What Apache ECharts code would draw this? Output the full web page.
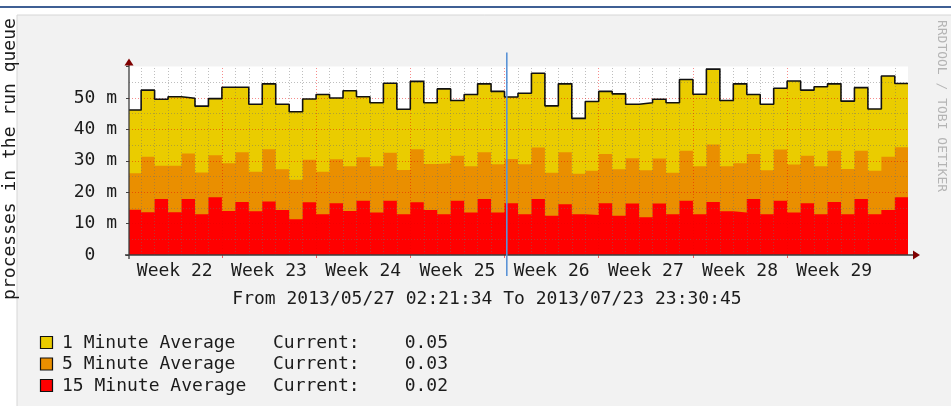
<!DOCTYPE html>
<html><head><meta charset="utf-8">
<script src="https://cdn.jsdelivr.net/npm/echarts@6/dist/echarts.min.js"></script>
<style>html,body{margin:0;padding:0;background:#fff}#c{width:951px;height:406px}</style>
</head><body><div id="c"></div>
<script>
// ---- data ----
const rangeFrom = '2013/05/27 02:21:34';
const rangeTo = '2013/07/23 23:30:45';
const rangeStartDay = 0.09831;   // days after 2013-05-27 00:00
const rangeEndDay = 57.97969;
const weekNumbers = [22, 23, 24, 25, 26, 27, 28, 29];
const weekLabels = ['Week 22','Week 23','Week 24','Week 25','Week 26','Week 27','Week 28','Week 29'];
const seriesNames = ['1 Minute Average', '5 Minute Average', '15 Minute Average'];
const seriesColors = ['#EACC00', '#EA8F00', '#FF0000'];
const currentValues = ['0.05', '0.03', '0.02'];
const yTickValues = [0, 10, 20, 30, 40, 50];
const cursorDay = 28.17;
// daily values, milli-processes
const oneMin = [46.2,52.5,49.6,50.4,49.9,47.4,49.8,53.4,53.4,48.0, 54.5,48.0,45.6,49.7,51.1,50.0,52.3,50.4,48.5,54.7,
  46.4,55.3,48.5,52.9,49.2,51.1,54.5,52.1,50.3,51.5, 57.9,47.5,54.5,43.5,48.9,52.1,51.3,48.0,48.5,49.6,
  48.5,55.9,51.2,59.2,49.2,54.5,51.1,48.0,53.1,55.4, 52.5,53.6,54.5,49.0,53.3,46.5,57.0,54.6];
const fiveMin = [26.0,31.3,28.4,28.4,32.3,26.3,31.8,29.2,32.7,26.5, 33.7,27.3,24.0,30.3,26.5,30.5,28.3,31.1,28.3,32.6,
  27.1,33.7,29.0,29.2,31.6,28.3,32.7,28.9,30.6,28.9, 34.2,26.2,32.7,25.9,26.8,32.2,27.3,30.8,27.0,30.7,
  26.2,33.2,28.3,35.2,28.3,29.2,32.2,27.0,33.6,28.8, 31.6,28.3,33.2,27.4,33.2,26.8,31.3,34.3];
const fifteenMin = [14.4,13.6,17.8,13.6,17.8,13.0,18.4,14.0,16.9,13.9, 17.0,14.3,11.4,16.8,13.0,16.5,14.0,17.3,13.5,17.3,
  13.0,16.8,14.3,13.0,17.3,13.5,17.8,13.5,16.5,13.0, 17.8,12.5,16.2,13.0,12.7,16.5,12.5,16.4,12.0,16.4,
  13.0,17.3,13.0,16.9,13.9,13.5,17.8,13.0,17.3,13.5, 16.5,13.0,16.9,13.0,17.8,13.0,14.3,18.4];

// ---- build ----
const FONT = 'DejaVu Sans Mono';
function toPoints(vals) {
  const pts = vals.map((v, i) => [i === 0 ? rangeStartDay : i, v]);
  pts.push([rangeEndDay, vals[vals.length - 1]]);
  return pts;
}
const weekCenters = weekNumbers.map((w, i) => i * 7 + 3.5);
const weekBounds = weekNumbers.slice(1).map((w, i) => (i + 1) * 7);
const dayLines = [];
for (let d = 1; d < rangeEndDay; d++) if (d % 7 !== 0) dayLines.push(d);
const minorY = [], majorY = [];
for (let v = 5; v < 60; v += 5) (v % 10 === 0 ? majorY : minorY).push(v);

const minorStyle = { color: 'rgba(110,110,110,0.45)', width: 1, type: [1, 2] };
const majorStyle = { color: 'rgba(235,0,0,0.45)', width: 1, type: [1, 2] };
const gridLines = [];
dayLines.forEach(d => gridLines.push({ xAxis: d, lineStyle: minorStyle }));
minorY.forEach(v => gridLines.push({ yAxis: v, lineStyle: minorStyle }));
weekBounds.forEach(d => gridLines.push({ xAxis: d, lineStyle: majorStyle }));
majorY.forEach(v => gridLines.push({ yAxis: v, lineStyle: majorStyle }));

function areaSeries(name, vals, color, z, withLine) {
  return {
    name, type: 'line', step: 'end', data: toPoints(vals), z,
    showSymbol: false, symbol: 'none', silent: true, animation: false,
    lineStyle: withLine ? { color: '#111', width: 1.6 } : { width: 0, opacity: 0 },
    areaStyle: { color, opacity: 1 }
  };
}

const chart = echarts.init(document.getElementById('c'), null, { renderer: 'canvas' });
const option = {
  animation: false,
  backgroundColor: 'transparent',
  grid: { left: 129, right: 43, top: 66.6, bottom: 151, show: true, backgroundColor: '#fff', borderWidth: 0 },
  xAxis: {
    type: 'value', min: rangeStartDay, max: rangeEndDay,
    axisLine: { show: false }, splitLine: { show: false },
    axisTick: { show: true, customValues: weekBounds, length: 3, lineStyle: { color: 'rgba(235,0,0,0.6)' } },
    axisLabel: {
      customValues: weekCenters, margin: 7,
      fontFamily: FONT, fontSize: 18, color: '#1c1c1c',
      formatter: v => { const i = weekCenters.findIndex(c => Math.abs(c - v) < 1e-6); return i >= 0 ? weekLabels[i] : ''; }
    }
  },
  yAxis: {
    type: 'value', min: 0, max: 60, interval: 10,
    axisLine: { show: false }, splitLine: { show: false },
    axisTick: { show: true, length: 3, lineStyle: { color: '#444' } },
    axisLabel: {
      margin: 12, fontFamily: FONT, fontSize: 18, color: '#1c1c1c',
      formatter: v => yTickValues.includes(v) ? (v === 0 ? '0  ' : v + ' m') : ''
    }
  },
  series: [
    areaSeries(seriesNames[0], oneMin, seriesColors[0], 2, false),
    areaSeries(seriesNames[1], fiveMin, seriesColors[1], 3, false),
    areaSeries(seriesNames[2], fifteenMin, seriesColors[2], 4, false),
    {
      name: 'grid', type: 'line', data: [[rangeStartDay, 0]], z: 5, symbol: 'none', silent: true,
      lineStyle: { opacity: 0 },
      markLine: { silent: true, symbol: ['none', 'none'], label: { show: false }, animation: false, data: gridLines }
    },
    {
      name: seriesNames[0] + ' line', type: 'line', step: 'end', data: toPoints(oneMin), z: 6,
      symbol: 'none', silent: true, lineStyle: { color: '#111', width: 1.6 }
    }
  ]
};
chart.setOption(option);

// decorations placed through the chart's own coordinate conversion
const p00 = chart.convertToPixel({ gridIndex: 0 }, [rangeStartDay, 0]);
const pTop = chart.convertToPixel({ gridIndex: 0 }, [rangeStartDay, 60]);
const pRight = chart.convertToPixel({ gridIndex: 0 }, [rangeEndDay, 0]);
const pCur = chart.convertToPixel({ gridIndex: 0 }, [cursorDay, 0]);
const axisColor = '#3c3c3c', arrowColor = '#7F0000';
const g = [];
g.push({ type: 'rect', z: -10, shape: { x: 17, y: 15, width: 960, height: 420 }, style: { fill: '#f2f2f2', stroke: '#d6d6d6', lineWidth: 1 } });
g.push({ type: 'rect', z: -9, shape: { x: 0, y: 6, width: 951, height: 2 }, style: { fill: '#3f5f94' } });
// axes
g.push({ type: 'line', z: 20, shape: { x1: p00[0], y1: p00[1] + 4, x2: p00[0], y2: pTop[1] - 4 }, style: { stroke: axisColor, lineWidth: 1.3 } });
g.push({ type: 'line', z: 20, shape: { x1: p00[0] - 4, y1: p00[1], x2: pRight[0] + 8, y2: p00[1] }, style: { stroke: axisColor, lineWidth: 1.3 } });
g.push({ type: 'polygon', z: 21, shape: { points: [[p00[0], pTop[1] - 8], [p00[0] - 4.5, pTop[1] - 1], [p00[0] + 4.5, pTop[1] - 1]] }, style: { fill: arrowColor } });
g.push({ type: 'polygon', z: 21, shape: { points: [[pRight[0] + 12, p00[1]], [pRight[0] + 5, p00[1] - 4.5], [pRight[0] + 5, p00[1] + 4.5]] }, style: { fill: arrowColor } });
// cursor line
g.push({ type: 'line', z: 30, shape: { x1: pCur[0], y1: pTop[1] - 14, x2: pCur[0], y2: p00[1] + 21 }, style: { stroke: '#5b93d6', lineWidth: 1.6 } });
// y-axis title
g.push({ type: 'text', z: 20, x: 10, y: 159, rotation: Math.PI / 2,
  style: { text: 'processes in the run queue', font: '18px "' + FONT + '"', fill: '#1c1c1c', align: 'center', verticalAlign: 'middle' } });
// watermark-side text
g.push({ type: 'text', z: 20, x: 941, y: 106, rotation: -Math.PI / 2,
  style: { text: 'RRDTOOL / TOBI OETIKER', font: '13px "' + FONT + '"', fill: '#b4b4b4', align: 'center', verticalAlign: 'middle' } });
// time range title
g.push({ type: 'text', z: 20, x: 487, y: 299,
  style: { text: 'From ' + rangeFrom + ' To ' + rangeTo, font: '18px "' + FONT + '"', fill: '#1c1c1c', align: 'center', verticalAlign: 'middle' } });
// legend
const rowY = [343, 364.5, 386];
seriesNames.forEach((n, i) => {
  g.push({ type: 'rect', z: 20, shape: { x: 40.5, y: rowY[i] - 6.5, width: 12, height: 12 }, style: { fill: seriesColors[i], stroke: '#111', lineWidth: 1.2 } });
  g.push({ type: 'text', z: 20, x: 62, y: rowY[i], style: { text: n, font: '18px "' + FONT + '"', fill: '#1c1c1c', verticalAlign: 'middle' } });
  g.push({ type: 'text', z: 20, x: 273, y: rowY[i], style: { text: 'Current:', font: '18px "' + FONT + '"', fill: '#1c1c1c', verticalAlign: 'middle' } });
  g.push({ type: 'text', z: 20, x: 448, y: rowY[i], style: { text: currentValues[i], font: '18px "' + FONT + '"', fill: '#1c1c1c', align: 'right', verticalAlign: 'middle' } });
});
chart.setOption({ graphic: { elements: g } });
</script></body></html>
